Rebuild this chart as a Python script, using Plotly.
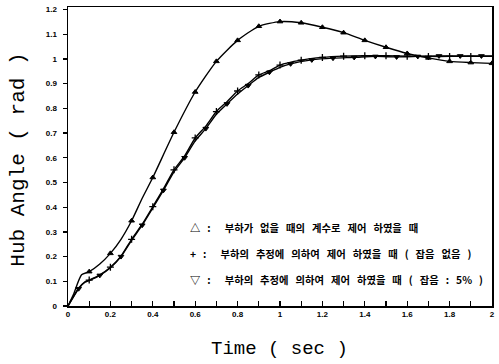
import plotly.graph_objects as go

# ---- data ----
# upper curve (triangles): control with no-load coefficients
t_tri_line = [0, 0.025, 0.064, 0.1, 0.15, 0.2, 0.25, 0.3, 0.35, 0.4, 0.5, 0.6, 0.7, 0.8, 0.9, 1.0, 1.1, 1.2, 1.3, 1.4, 1.5, 1.6, 1.7, 1.8, 1.9, 2.0]
v_tri_line = [0, 0.045, 0.126, 0.139, 0.17, 0.213, 0.27, 0.345, 0.436, 0.52, 0.703, 0.866, 0.99, 1.075, 1.132, 1.151, 1.146, 1.128, 1.106, 1.075, 1.047, 1.022, 1.004, 0.99, 0.985, 0.982]
t_tri = [0.1, 0.2, 0.3, 0.4, 0.5, 0.6, 0.7, 0.8, 0.9, 1.0, 1.1, 1.2, 1.3, 1.4, 1.5, 1.6, 1.7, 1.8, 1.9, 2.0]
v_tri = [0.139, 0.213, 0.345, 0.52, 0.703, 0.866, 0.99, 1.075, 1.132, 1.151, 1.146, 1.128, 1.106, 1.075, 1.047, 1.022, 1.004, 0.99, 0.985, 0.982]

# '+' curve: load estimation, no noise
t_plus_line = [0, 0.05, 0.08, 0.1, 0.15, 0.2, 0.25, 0.3, 0.35, 0.4, 0.45, 0.5, 0.55, 0.6, 0.65, 0.7, 0.75, 0.8, 0.85, 0.9, 0.95, 1.0, 1.1, 1.2, 1.3, 1.4, 1.5, 1.6, 1.7, 1.8, 1.9, 2.0]
v_plus_line = [0, 0.072, 0.098, 0.105, 0.126, 0.157, 0.202, 0.27, 0.331, 0.402, 0.474, 0.551, 0.607, 0.68, 0.728, 0.787, 0.827, 0.87, 0.9, 0.935, 0.952, 0.975, 0.995, 1.006, 1.011, 1.013, 1.013, 1.011, 1.01, 1.01, 1.01, 1.01]
t_plus = [0.1, 0.2, 0.3, 0.4, 0.5, 0.6, 0.7, 0.8, 0.9, 1.0, 1.1, 1.2, 1.3, 1.4, 1.5, 1.6, 1.7, 1.8, 1.9]
v_plus = [0.105, 0.157, 0.27, 0.402, 0.551, 0.68, 0.787, 0.87, 0.935, 0.975, 0.995, 1.006, 1.011, 1.013, 1.013, 1.011, 1.01, 1.01, 1.01]

# inverted-triangle curve: load estimation, 5% noise
t_inv_line = [0, 0.05, 0.08, 0.1, 0.15, 0.2, 0.25, 0.3, 0.35, 0.4, 0.45, 0.5, 0.55, 0.6, 0.65, 0.7, 0.75, 0.8, 0.85, 0.9, 0.95, 1.0, 1.05, 1.15, 1.25, 1.35, 1.45, 1.55, 1.65, 1.75, 1.85, 1.95, 2.0]
v_inv_line = [0, 0.07, 0.096, 0.103, 0.124, 0.155, 0.2, 0.266, 0.327, 0.397, 0.468, 0.543, 0.6, 0.668, 0.718, 0.776, 0.818, 0.858, 0.892, 0.925, 0.946, 0.966, 0.98, 0.996, 1.003, 1.006, 1.01, 1.008, 1.01, 1.012, 1.012, 1.012, 1.012]
t_inv = [0.05, 0.15, 0.25, 0.35, 0.45, 0.55, 0.65, 0.75, 0.85, 0.95, 1.05, 1.15, 1.25, 1.35, 1.45, 1.55, 1.65, 1.75, 1.85, 1.95]
v_inv = [0.07, 0.124, 0.2, 0.327, 0.468, 0.6, 0.718, 0.818, 0.892, 0.946, 0.98, 0.996, 1.003, 1.006, 1.01, 1.008, 1.01, 1.012, 1.012, 1.012]

x_ticks = [0.0, 0.2, 0.4, 0.6, 0.8, 1.0, 1.2, 1.4, 1.6, 1.8, 2.0]
x_ticktext = ["0", "0.2", "0.4", "0.6", "0.8", "1", "1.2", "1.4", "1.6", "1.8", "2"]
y_ticks = [0, 0.1, 0.2, 0.3, 0.4, 0.5, 0.6, 0.7, 0.8, 0.9, 1, 1.1, 1.2]
y_ticktext = ["0", "0.1", "0.2", "0.3", "0.4", "0.5", "0.6", "0.7", "0.8", "0.9", "1", "1.1", "1.2"]

legend_lines = [
    "△ :  부하가 없을 때의 계수로 제어 하였을 때",
    "+ :  부하의 추정에 의하여 제어 하였을 때 ( 잡음 없음 )",
    "▽ :  부하의 추정에 의하여 제어 하였을 때 ( 잡음 : 5% )",
]
legend_y = [0.264, 0.177, 0.087]

x_title = "Time ( sec )"
y_title = "Hub Angle ( rad )"

fig = go.Figure()
line_style = dict(color="black", width=1.4, shape="spline", smoothing=0.6)

fig.add_trace(go.Scatter(x=t_tri_line, y=v_tri_line, mode="lines", line=line_style, showlegend=False))
fig.add_trace(go.Scatter(x=t_plus_line, y=v_plus_line, mode="lines", line=line_style, showlegend=False))
fig.add_trace(go.Scatter(x=t_inv_line, y=v_inv_line, mode="lines", line=line_style, showlegend=False))

fig.add_trace(go.Scatter(x=t_tri, y=v_tri, mode="markers",
                         marker=dict(symbol="triangle-up", size=5, color="black",
                                     line=dict(color="black", width=1)), showlegend=False))
fig.add_trace(go.Scatter(x=t_plus, y=v_plus, mode="markers",
                         marker=dict(symbol="cross-thin", size=5, color="black",
                                     line=dict(color="black", width=1.3)), showlegend=False))
fig.add_trace(go.Scatter(x=t_inv, y=v_inv, mode="markers",
                         marker=dict(symbol="triangle-down", size=5, color="black",
                                     line=dict(color="black", width=1)), showlegend=False))

NB = "\u00a0"
for txt, yy in zip(legend_lines, legend_y):
    spaced = txt.replace(" ", NB * 3)
    fig.add_annotation(x=0.284, y=yy, xref="paper", yref="paper", text="<b>" + spaced + "</b>",
                       showarrow=False, xanchor="left", yanchor="middle",
                       font=dict(family="Noto Sans CJK KR", size=10.3, color="black"))

# axis titles as annotations so they sit where the reference has them
fig.add_annotation(x=-0.1166, y=0.488, xref="paper", yref="paper", text=y_title, textangle=-90,
                   showarrow=False, xanchor="center", yanchor="middle",
                   font=dict(family="Liberation Mono", size=21, color="black"))
fig.add_annotation(x=0.499, y=-0.144, xref="paper", yref="paper", text=x_title,
                   showarrow=False, xanchor="center", yanchor="middle",
                   font=dict(family="Liberation Mono", size=19, color="black"))

tick_font = dict(family="Arial, Liberation Sans", size=8, color="black", weight="bold")
fig.update_xaxes(range=[0, 2.0], tickmode="array", tickvals=x_ticks, ticktext=x_ticktext,
                 ticks="inside", ticklen=5, tickwidth=1.3, tickcolor="black",
                 minor=dict(dtick=0.1, ticks="inside", ticklen=5, tickwidth=1.3, tickcolor="black"),
                 showline=True, linecolor="black", linewidth=1.5, mirror=True,
                 showgrid=False, zeroline=False, tickfont=tick_font, ticklabeloverflow="allow")
fig.update_yaxes(range=[0, 1.21], tickmode="array", tickvals=y_ticks, ticktext=y_ticktext,
                 ticks="outside", ticklen=4, tickwidth=1.3, tickcolor="black",
                 showline=True, linecolor="black", linewidth=1.5, mirror=True,
                 showgrid=False, zeroline=False, tickfont=tick_font, ticklabelstandoff=4)

fig.update_layout(width=499, height=364, margin=dict(l=68, r=4, t=7, b=58),
                  plot_bgcolor="white", paper_bgcolor="white", hovermode=False)

fig.write_html("out.html", config={"displayModeBar": False, "staticPlot": True},
               post_script="document.body.style.margin='0px';")
